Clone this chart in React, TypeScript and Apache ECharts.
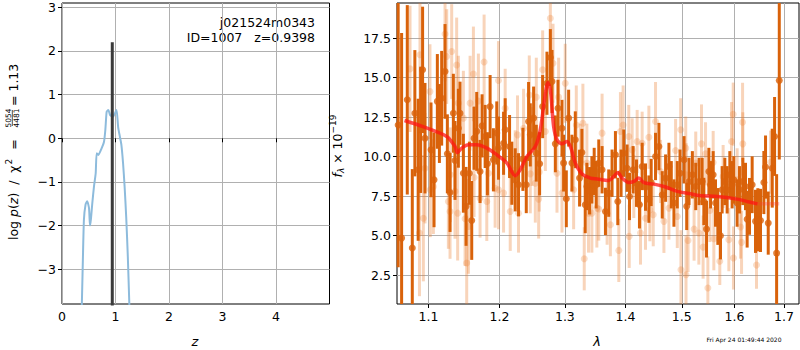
import React, { useEffect, useRef } from "react";
import * as echarts from "echarts";

// ---------- Left panel: log p(z) ----------
const zGrid = [0.37, 0.39, 0.41, 0.44, 0.47, 0.505, 0.523, 0.54, 0.567, 0.598, 0.63, 0.648, 0.68, 0.74, 0.785, 0.81, 0.835, 0.866, 0.9, 0.95, 0.99, 1.02, 1.05, 1.08, 1.11, 1.14, 1.17, 1.2, 1.23, 1.26];
const logPz = [-3.85, -2.79, -1.86, -1.52, -1.44, -1.6, -2.0, -1.86, -1.48, -1.1, -0.8, -0.34, -0.38, -0.23, -0.08, 0.19, 0.61, 0.65, 0.53, 0.49, 0.57, 0.65, 0.25, 0.05, -0.15, -0.55, -1.1, -1.8, -2.7, -3.85];
const zBest = 0.9398;
const spikeRange = [-3.9, 2.2];
const zTicks = [0, 1, 2, 3, 4];
const pzTicks = [-3, -2, -1, 0, 1, 2, 3];

// ---------- Right panel: spectrum ----------
const darkLam = [1.06, 1.0645, 1.0719, 1.0785, 1.0819, 1.0863, 1.0896, 1.0922, 1.0954, 1.1035, 1.1076, 1.1121, 1.1149, 1.118, 1.1226, 1.1258, 1.1295, 1.1341, 1.1364, 1.1411, 1.1434, 1.1481, 1.1519, 1.1566, 1.1599, 1.1632, 1.167, 1.1718, 1.1747, 1.1791, 1.1824, 1.1863, 1.1911, 1.196,
  1.1986, 1.206, 1.2084, 1.2149, 1.2183, 1.2233, 1.2283, 1.2349, 1.24, 1.2435, 1.2461, 1.2512, 1.2553, 1.2604, 1.2651, 1.2718, 1.2771, 1.2797, 1.2849, 1.2891, 1.2954, 1.298, 1.3023, 1.306, 1.3113, 1.3167, 1.3236, 1.3274, 1.3328, 1.3355, 1.3399, 1.3437, 1.3475, 1.3508,
  1.3551, 1.3606, 1.3662, 1.3717, 1.3773, 1.383, 1.387, 1.3926, 1.3972, 1.4029, 1.407, 1.4133, 1.4191, 1.4243, 1.429, 1.4349, 1.4408, 1.4449, 1.4526, 1.4586, 1.4646, 1.4706, 1.4766, 1.4809, 1.4857, 1.4918, 1.4968, 1.5042, 1.5091, 1.5134, 1.5196, 1.5259, 1.5321,
  1.538, 1.5411, 1.5462, 1.5506, 1.5538, 1.5588, 1.5633, 1.5677, 1.5728, 1.576, 1.5812, 1.5857, 1.5909, 1.5954, 1.5987, 1.6052, 1.6098, 1.6164, 1.6217, 1.625, 1.6297, 1.635, 1.6417, 1.6464, 1.6518, 1.6586, 1.662, 1.6675, 1.6757, 1.6805, 1.6847, 1.6902];
const darkFlux = [12.0, 4.84, 13.6, 4.21, 12.75, 9.17, 11.7, 15.5, 11.17, 10.43, 8.53, 13.5, 12.1, 13.7, 15.4, 10.18, 7.73, 12.75, 9.76, 11.8, 12.75, 8.95, 6.85, 8.95, 5.96, 11.17, 11.6, 9.06, 11.95, 11.28, 9.55, 13.17, 9.8, 11.5,
  10.54, 10.85, 11.7, 10.64, 8.95, 8.53, 8.22, 9.83, 8.22, 12.23, 11.38, 12.44, 10.22, 9.55, 13.17, 14.65, 16.28, 14.76, 10.81, 13.07, 11.8, 9.59, 7.33, 12.44, 9.59, 11.07, 8.64, 10.26, 6.95, 8.11, 7.84, 8.53, 9.06, 8.22,
  9.59, 9.17, 6.53, 7.69, 8.95, 10.12, 7.16, 8.95, 10.22, 9.27, 7.48, 9.17, 8.32, 6.95, 9.38, 8.07, 7.31, 8.36, 10.01, 10.64, 7.58, 8.64, 9.38, 8.22, 7.06, 8.22, 8.95, 9.8, 6.85, 8.43, 8.85, 8.11, 8.43,
  8.43, 7.16, 5.41, 9.06, 8.22, 8.85, 7.06, 6.21, 4.99, 7.9, 8.43, 7.9, 8.85, 8.22, 8.53, 7.06, 7.9, 8.43, 8.11, 6.04, 6.85, 8.22, 5.9, 6.0, 5.96, 8.36, 9.34, 5.79, 9.27, 11.28, 3.89, 14.82];
const darkErr = [9, 13, 6, 5, 4, 4.5, 4, 4, 3.5, 3, 3, 3, 2.5, 3, 3, 2.5, 2.5, 2.5, 2.5, 2.5, 2, 2.5, 2.5, 2, 2.5, 2, 2.5, 2, 2, 2, 2, 2, 2, 2,
  2, 2, 2, 2, 2, 2, 2, 2, 1.8, 2.5, 2, 2, 1.8, 2, 2, 2, 1.8, 2, 1.8, 1.8, 1.8, 1.8, 1.8, 1.8, 1.8, 1.8, 1.8, 1.5, 1.8, 1.5, 1.5, 1.5, 1.5, 1.5,
  1.5, 1.5, 1.5, 1.5, 1.5, 1.5, 1.5, 1.5, 1.5, 1.5, 1.5, 1.5, 1.5, 1.5, 1.5, 1.5, 1.5, 1.5, 1.5, 1.5, 1.5, 1.5, 1.5, 1.5, 1.5, 1.5, 1.5, 1.5, 1.5, 1.5, 1.5, 1.5, 1.5,
  1.5, 1.5, 1.8, 1.5, 1.5, 1.5, 1.5, 1.8, 1.5, 1.5, 1.5, 1.5, 1.5, 1.5, 1.5, 1.5, 1.5, 1.5, 1.5, 1.8, 1.8, 1.8, 2, 2, 2, 2, 2, 2, 2.5, 2.5, 5, 5];

const lightLam = [1.0755, 1.0887, 1.0932, 1.088, 1.0954, 1.1021, 1.1025, 1.1067, 1.1226, 1.1249, 1.1272, 1.1295, 1.13, 1.1318, 1.1364, 1.1387, 1.1401, 1.1411, 1.1481, 1.1505, 1.1528, 1.1552, 1.1576, 1.1623, 1.1632, 1.1694, 1.1718, 1.1776, 1.1815, 1.1839, 1.1936, 1.1985,
  1.1986, 1.206, 1.2084, 1.2159, 1.2233, 1.2268, 1.2283, 1.2359, 1.2446, 1.2461, 1.2487, 1.2538, 1.2553, 1.2589, 1.2599, 1.2651, 1.2693, 1.2771, 1.2813, 1.2875, 1.2901, 1.2954, 1.3006, 1.314, 1.3183, 1.3247, 1.329, 1.3312, 1.3355, 1.3382, 1.3437, 1.3519,
  1.3551, 1.3606, 1.369, 1.3745, 1.3887, 1.3915, 1.3961, 1.4058, 1.4065, 1.4116, 1.4145, 1.4203, 1.4261, 1.429, 1.4349, 1.4408, 1.4426, 1.4485, 1.4526, 1.4616, 1.4676, 1.4766, 1.4887, 1.4918, 1.498, 1.4985, 1.5073, 1.5078, 1.508, 1.5116, 1.5228, 1.5259,
  1.5317, 1.5367, 1.5397, 1.5443, 1.5487, 1.5525, 1.5588, 1.5601, 1.5715, 1.5779, 1.589, 1.5942, 1.5975, 1.598, 1.6052, 1.6119, 1.6139, 1.6159, 1.6164, 1.6437, 1.6723];
const lightFlux = [15.56, 16.45, 6.1, 5.16, 9.27, 14.12, 7.9, 8.1, 17.77, 16.34, 7.16, 6.53, 8.85, 16.66, 7.8, 15.81, 6.42, 13.39, 12.44, 6.07, 3.26, 5.58, 13.39, 15.24, 8.68, 13.53, 7.37, 16.0, 7.16, 8.95, 8.0, 14.82,
  7.9, 7.69, 13.07, 6.53, 9.17, 11.38, 6.42, 11.8, 13.91, 8.91, 10.64, 8.32, 13.77, 7.31, 9.02, 15.5, 11.59, 18.77, 15.92, 8.95, 13.77, 7.69, 14.65, 7.9, 12.01, 9.59, 12.12, 3.53, 9.59, 6.42, 6.42, 6.74,
  6.68, 11.49, 6.42, 5.69, 4.06, 11.59, 12.01, 11.28, 4.95, 10.43, 8.11, 10.96, 5.16, 10.85, 6.1, 11.23, 6.64, 6.32, 12.23, 9.06, 5.9, 6.74, 10.39, 6.21, 11.7, 2.84, 10.54, 2.52, 8.85, 4.69, 5.41, 9.59,
  5.16, 10.81, 4.27, 10.18, 1.68, 6.59, 9.63, 4.8, 3.37, 8.74, 4.74, 10.96, 12.69, 3.58, 8.53, 5.54, 4.57, 12.18, 10.81, 3.13, 9.65];
const lightErr = [4, 4, 4, 4, 3.5, 3, 3, 3, 3, 3, 3, 3, 3, 3, 3, 3, 3, 3, 3, 3, 3, 3, 3, 3, 2.5, 3, 2.5, 3, 2.5, 2.5, 2.5, 2.5,
  2.5, 2.5, 2.5, 2.5, 2.5, 2.5, 2.5, 2.5, 2.5, 2.5, 2.5, 2.5, 2.5, 2.5, 2.5, 2.5, 2.5, 2.5, 2.5, 2.5, 2.5, 2.5, 2.5, 2.5, 2.5, 2.5, 2.5, 2, 2.5, 2.5, 2.5, 2.5,
  2, 2.5, 2, 2, 2, 2.5, 2.5, 2, 2, 2, 2, 2, 2, 2, 2, 2, 2, 2, 2.5, 2, 2, 2, 2, 2, 2, 2.5, 2, 2.5, 2, 2, 2, 2,
  2, 2.5, 2, 2, 2, 2, 2, 2, 1.5, 2, 2, 2.5, 2, 2, 2, 2, 2, 2.5, 2, 1.5, 2];

const modelLam = [1.0683, 1.0927, 1.1249, 1.1364, 1.1397, 1.1458, 1.1552, 1.167, 1.1815, 1.196, 1.211, 1.2233, 1.2308, 1.241, 1.2538, 1.2614, 1.2693, 1.2729, 1.2771, 1.2823, 1.2875, 1.2954, 1.3034, 1.3097, 1.3167, 1.3274, 1.341, 1.3523, 1.3717, 1.3801, 1.387, 1.3943, 1.4058, 1.4145, 1.4232, 1.432, 1.4497, 1.4676, 1.4918, 1.5163, 1.5321, 1.5668, 1.6052, 1.625, 1.6457];
const modelFlux = [12.29, 11.9, 11.28, 10.64, 10.26, 10.54, 10.75, 10.75, 10.54, 10.12, 9.59, 8.79, 9.17, 10.01, 10.64, 11.7, 14.0, 14.69, 14.23, 11.9, 11.07, 10.81, 10.96, 10.54, 9.59, 8.91, 8.64, 8.58, 8.49, 8.74, 9.0, 8.64, 8.36, 8.43, 8.64, 8.36, 8.26, 8.11, 7.8, 7.65, 7.54, 7.48, 7.31, 7.16, 7.01];
const tailLam = [1.6457, 1.6902];
const tailFlux = [7.01, 7.01];
const lamTicks = [1.1, 1.2, 1.3, 1.4, 1.5, 1.6, 1.7];
const fluxTicks = [2.5, 5.0, 7.5, 10.0, 12.5, 15.0, 17.5];
const lamRange = [1.0585, 1.7315];
const fluxRange = [0.665, 19.734];

const FONT = "DejaVu Sans";
const DARK = "#d9620a";
const LIGHT = "rgba(235,125,45,0.33)";
const GRIDC = "#b0b0b0";

function errBarSeries(lam: number[], flux: number[], err: number[], color: string, z: number) {
  return {
    type: "custom",
    xAxisIndex: 1,
    yAxisIndex: 1,
    z,
    silent: true,
    dimensions: ["x", "y", "e"],
    encode: { x: 0, y: 1 },
    data: lam.map((l, i) => [Math.log(l), flux[i], err[i]]),
    renderItem: (params: any, api: any) => {
      const x = api.value(0);
      const y = api.value(1);
      const e = api.value(2);
      const a = api.coord([x, y - e]);
      const b = api.coord([x, y + e]);
      const cs = params.coordSys;
      const top = cs.y;
      const bot = cs.y + cs.height;
      const cl = (v: number) => Math.min(Math.max(v, top), bot);
      return {
        type: "line",
        shape: { x1: a[0], y1: cl(a[1]), x2: b[0], y2: cl(b[1]) },
        style: { stroke: color, lineWidth: 3 },
      };
    },
  };
}

export default function App() {
  const ref = useRef<HTMLDivElement>(null);
  useEffect(() => {
    if (!ref.current) return;
    const chart = echarts.init(ref.current, undefined, { renderer: "svg" });
    const axisCommon = {
      axisLine: { show: false },
      axisTick: { show: true, inside: false, length: 4, lineStyle: { color: "#000", width: 1 } },
      splitLine: { show: true, lineStyle: { color: GRIDC, width: 1 } },
    };
    const labelStyle = { color: "#000", fontFamily: FONT, fontSize: 12.5 };
    const option: any = {
      animation: false,
      backgroundColor: "#fff",
      grid: [
        { left: 62, top: 3, width: 267.5, height: 301, show: true, borderColor: "#000", borderWidth: 1, backgroundColor: "transparent" },
        { left: 397, top: 3, width: 402, height: 301, show: true, borderColor: "#000", borderWidth: 1, backgroundColor: "transparent" },
      ],
      xAxis: [
        {
          type: "value", gridIndex: 0, min: 0, max: 5,
          ...axisCommon,
          axisTick: { ...axisCommon.axisTick, customValues: zTicks },
          axisLabel: { ...labelStyle, margin: 6, customValues: zTicks, formatter: (v: number) => String(v) },
        },
        {
          type: "value", gridIndex: 1, min: Math.log(lamRange[0]), max: Math.log(lamRange[1]),
          ...axisCommon,
          axisTick: { ...axisCommon.axisTick, customValues: lamTicks.map((t) => Math.log(t)) },
          axisLabel: { ...labelStyle, margin: 6, customValues: lamTicks.map((t) => Math.log(t)), formatter: (v: number) => Math.exp(v).toFixed(1) },
        },
      ],
      yAxis: [
        {
          type: "value", gridIndex: 0, min: -3.795, max: 3.098,
          ...axisCommon,
          axisTick: { ...axisCommon.axisTick, customValues: pzTicks },
          axisLabel: { ...labelStyle, margin: 6, customValues: pzTicks, formatter: (v: number) => String(Math.round(v)).replace("-", "\u2212") },
        },
        {
          type: "value", gridIndex: 1, min: fluxRange[0], max: fluxRange[1],
          ...axisCommon,
          axisTick: { ...axisCommon.axisTick, customValues: fluxTicks },
          axisLabel: { ...labelStyle, margin: 6, customValues: fluxTicks, formatter: (v: number) => v.toFixed(1) },
        },
      ],
      series: [
        {
          type: "line", xAxisIndex: 0, yAxisIndex: 0, showSymbol: false, smooth: 0.2, clip: true,
          data: zGrid.map((z, i) => [z, logPz[i]]),
          lineStyle: { color: "#8dbbdc", width: 2 },
          z: 2,
        },
        {
          type: "line", xAxisIndex: 0, yAxisIndex: 0, showSymbol: false, clip: true,
          data: [[zBest, spikeRange[0]], [zBest, spikeRange[1]]],
          lineStyle: { color: "#3a3a3a", width: 3 },
          z: 3,
        },
        errBarSeries(lightLam, lightFlux, lightErr, LIGHT, 2),
        {
          type: "scatter", xAxisIndex: 1, yAxisIndex: 1, symbolSize: 7, z: 2,
          data: lightLam.map((l, i) => [Math.log(l), lightFlux[i]]),
          itemStyle: { color: LIGHT },
        },
        errBarSeries(darkLam, darkFlux, darkErr, DARK, 3),
        {
          type: "scatter", xAxisIndex: 1, yAxisIndex: 1, symbolSize: 7, z: 3,
          data: darkLam.map((l, i) => [Math.log(l), darkFlux[i]]),
          itemStyle: { color: DARK },
        },
        {
          type: "line", xAxisIndex: 1, yAxisIndex: 1, showSymbol: false, smooth: 0.3, z: 5,
          data: modelLam.map((l, i) => [Math.log(l), modelFlux[i]]),
          lineStyle: { color: "rgba(255,20,20,0.75)", width: 3.5 },
        },
        {
          type: "line", xAxisIndex: 1, yAxisIndex: 1, showSymbol: false, z: 5,
          data: tailLam.map((l, i) => [Math.log(l), tailFlux[i]]),
          lineStyle: { color: "rgba(255,60,60,0.3)", width: 3.5 },
        },
      ],
      graphic: [
        {
          type: "text", x: 315, y: 22,
          style: { text: "j021524m0343", font: `12.5px ${FONT}`, fill: "#000", align: "right", verticalAlign: "middle" },
        },
        {
          type: "text", x: 315, y: 37,
          style: { text: "ID=1007   z=0.9398", font: `12.5px ${FONT}`, fill: "#000", align: "right", verticalAlign: "middle" },
        },
        {
          type: "text", x: 195, y: 341,
          style: { text: "z", font: `italic 13px ${FONT}`, fill: "#000", align: "center", verticalAlign: "middle" },
        },
        {
          type: "text", x: 597, y: 341,
          style: { text: "λ", font: `italic 13px ${FONT}`, fill: "#000", align: "center", verticalAlign: "middle" },
        },
        {
          type: "text", x: 744, y: 339,
          style: { text: "Fri Apr 24 01:49:44 2020", font: `6px ${FONT}`, fill: "#000", align: "center", verticalAlign: "middle" },
        },
        {
          type: "group", x: 13, y: 240, rotation: Math.PI / 2,
          children: [
            {
              type: "text", x: 0, y: 0,
              style: {
                text: "{n|log }{i|p}{n|(}{i|z}{n|)  /  χ}{p|2}{n|  =}",
                align: "left", verticalAlign: "middle",
                rich: {
                  n: { fontFamily: FONT, fontSize: 12.5, fill: "#000" },
                  i: { fontFamily: FONT, fontSize: 12.5, fontStyle: "italic", fill: "#000" },
                  p: { fontFamily: FONT, fontSize: 9, fill: "#000", padding: [0, 1, 8, 1] },
                },
              },
            },
            { type: "text", x: 122, y: -4.5, style: { text: "5054", font: `7.5px ${FONT}`, fill: "#000", align: "center", verticalAlign: "middle" } },
            { type: "line", shape: { x1: 114, y1: -0.7, x2: 130, y2: -0.7 }, style: { stroke: "#000", lineWidth: 0.7 } },
            { type: "text", x: 122, y: 3.8, style: { text: "4481", font: `7.5px ${FONT}`, fill: "#000", align: "center", verticalAlign: "middle" } },
            { type: "text", x: 134, y: 0, style: { text: "= 1.13", font: `12.5px ${FONT}`, fill: "#000", align: "left", verticalAlign: "middle" } },
          ],
        },
        {
          type: "group", x: 337, y: 146, rotation: Math.PI / 2,
          children: [
            {
              type: "text", x: 0, y: 0,
              style: {
                text: "{i|f}{s|λ}{n| × 10}{p|−19}",
                align: "center", verticalAlign: "middle",
                rich: {
                  n: { fontFamily: FONT, fontSize: 12.5, fill: "#000" },
                  i: { fontFamily: FONT, fontSize: 12.5, fontStyle: "italic", fill: "#000" },
                  s: { fontFamily: FONT, fontSize: 9, fontStyle: "italic", fill: "#000", padding: [7, 0, 0, 0] },
                  p: { fontFamily: FONT, fontSize: 9, fill: "#000", padding: [0, 0, 8, 0] },
                },
              },
            },
          ],
        },
      ],
    };
    chart.setOption(option);
    return () => chart.dispose();
  }, []);
  return <div ref={ref} style={{ width: 800, height: 350, position: "absolute", left: 0, top: 0 }} />;
}
